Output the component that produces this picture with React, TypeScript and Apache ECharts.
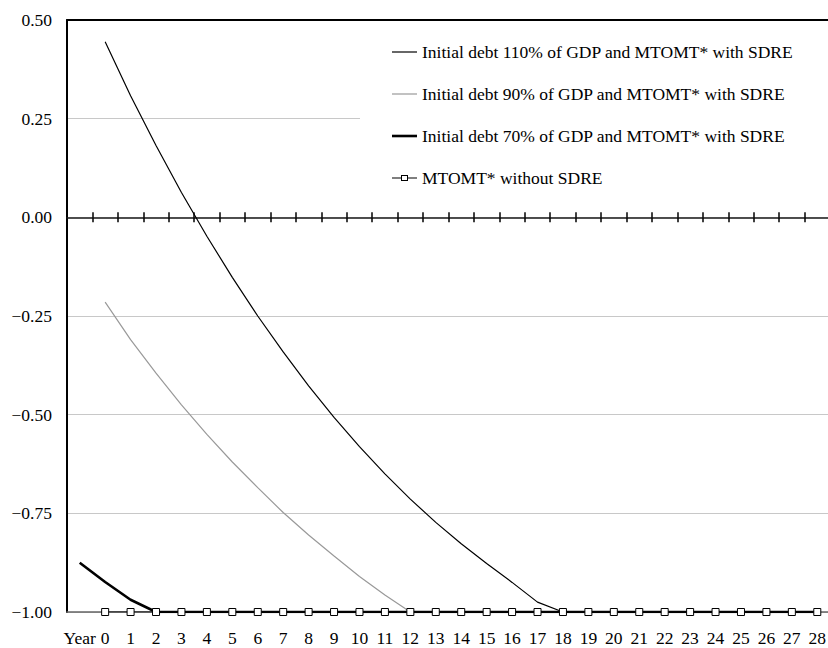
import React, { useEffect, useRef } from "react";
import * as echarts from "echarts";

const years = [
  "Year", "0", "1", "2", "3", "4", "5", "6", "7", "8", "9", "10", "11", "12", "13", "14",
  "15", "16", "17", "18", "19", "20", "21", "22", "23", "24", "25", "26", "27", "28",
];

const debt110 = [
  null, 0.445, 0.308, 0.182, 0.063, -0.048, -0.152, -0.25, -0.341, -0.427, -0.507, -0.581,
  -0.65, -0.714, -0.773, -0.827, -0.877, -0.925, -0.975, -1, -1, -1, -1, -1, -1, -1, -1, -1, -1, -1,
];

const debt90 = [
  null, -0.215, -0.31, -0.395, -0.475, -0.55, -0.62, -0.685, -0.748, -0.805, -0.858, -0.91,
  -0.957, -1, -1, -1, -1, -1, -1, -1, -1, -1, -1, -1, -1, -1, -1, -1, -1, -1,
];

const debt70 = [
  -0.875, -0.924, -0.969, -1, -1, -1, -1, -1, -1, -1, -1, -1, -1, -1, -1, -1,
  -1, -1, -1, -1, -1, -1, -1, -1, -1, -1, -1, -1, -1, -1,
];

const noSdre = [
  null, -1, -1, -1, -1, -1, -1, -1, -1, -1, -1, -1, -1, -1, -1, -1,
  -1, -1, -1, -1, -1, -1, -1, -1, -1, -1, -1, -1, -1, -1,
];

const seriesNames = [
  "Initial debt 110% of GDP and MTOMT* with SDRE",
  "Initial debt 90% of GDP and MTOMT* with SDRE",
  "Initial debt 70% of GDP and MTOMT* with SDRE",
  "MTOMT* without SDRE",
];

const FONT = "serif";

const thinLine = "path://M0,0 L25,0 L25,1.2 L0,1.2 Z";
const thickLine = "path://M0,0 L25,0 L25,2.6 L0,2.6 Z";
const lineSquare =
  "path://M0,3 L9,3 L9,4 L0,4 Z M16,3 L25,3 L25,4 L16,4 Z M9,0.5 L16,0.5 L16,6.5 L9,6.5 Z M10,1.5 L10,5.5 L15,5.5 L15,1.5 Z";

export default function App() {
  const ref = useRef<HTMLDivElement>(null);
  useEffect(() => {
    if (!ref.current) return;
    const chart = echarts.init(ref.current, undefined, { renderer: "svg" });
    const hidden = { show: false };
    chart.setOption({
      animation: false,
      backgroundColor: "#fff",
      textStyle: { fontFamily: FONT },
      grid: {
        left: 67,
        right: -2,
        top: 20,
        bottom: 36,
        containLabel: false,
        outerBoundsMode: "none",
      },
      legend: {
        orient: "vertical",
        left: 360,
        top: 28,
        padding: [15, 40, 15, 32],
        backgroundColor: "#fff",
        itemGap: 24,
        itemWidth: 25,
        itemHeight: 14,
        symbolKeepAspect: true,
        selectedMode: false,
        textStyle: { fontFamily: FONT, fontSize: 17.5, color: "#000" },
        data: [
          { name: seriesNames[0], icon: thinLine, itemStyle: { color: "#000", borderWidth: 0 } },
          { name: seriesNames[1], icon: thinLine, itemStyle: { color: "#999", borderWidth: 0 } },
          { name: seriesNames[2], icon: thickLine, itemStyle: { color: "#000", borderWidth: 0 } },
          { name: seriesNames[3], icon: lineSquare, itemStyle: { color: "#000", borderWidth: 0 } },
        ],
      },
      xAxis: [
        {
          type: "category",
          data: years,
          position: "bottom",
          boundaryGap: true,
          axisLine: { onZero: false, lineStyle: { color: "#666", width: 1.5 } },
          axisTick: hidden,
          splitLine: hidden,
          axisLabel: {
            interval: 0,
            margin: 17,
            fontSize: 17.5,
            color: "#000",
            fontFamily: FONT,
          },
        },
        {
          type: "category",
          data: years,
          position: "top",
          axisLine: { onZero: true, lineStyle: { color: "#444", width: 1.5 } },
          axisTick: { show: true, interval: 0, length: 5, lineStyle: { color: "#000", width: 1.5 } },
          axisLabel: hidden,
          splitLine: hidden,
        },
        {
          type: "category",
          data: years,
          position: "top",
          axisLine: { onZero: true, onZeroAxisIndex: 0, lineStyle: { color: "#444", width: 1.5 } },
          axisTick: { show: true, inside: true, interval: 0, length: 5, lineStyle: { color: "#000", width: 1.5 } },
          axisLabel: hidden,
          splitLine: hidden,
        },
        {
          type: "category",
          data: years,
          position: "top",
          axisLine: { onZero: false, lineStyle: { color: "#000", width: 2 } },
          axisTick: hidden,
          axisLabel: hidden,
          splitLine: hidden,
        },
      ],
      yAxis: {
        type: "value",
        min: -1,
        max: 0.5,
        interval: 0.25,
        axisLine: { show: true, onZero: false, lineStyle: { color: "#000", width: 2 } },
        axisTick: hidden,
        splitLine: { show: true, lineStyle: { color: "#c8c8c8", width: 1.2 } },
        axisLabel: {
          margin: 15,
          fontSize: 17.5,
          color: "#000",
          fontFamily: FONT,
          formatter: (v: number) => v.toFixed(2).replace("-", "\u2212"),
        },
      },
      series: [
        {
          name: seriesNames[0],
          type: "line",
          data: debt110,
          symbol: "none",
          lineStyle: { color: "#000", width: 1.2 },
          itemStyle: { color: "#000" },
        },
        {
          name: seriesNames[1],
          type: "line",
          data: debt90,
          symbol: "none",
          lineStyle: { color: "#999", width: 1.2 },
          itemStyle: { color: "#999" },
        },
        {
          name: seriesNames[2],
          type: "line",
          data: debt70,
          symbol: "none",
          lineStyle: { color: "#000", width: 2.6 },
          itemStyle: { color: "#000" },
        },
        {
          name: seriesNames[3],
          type: "line",
          data: noSdre,
          symbol: "rect",
          symbolSize: 7,
          showSymbol: true,
          lineStyle: { color: "#000", width: 1 },
          itemStyle: { color: "#fff", borderColor: "#000", borderWidth: 1 },
        },
      ],
    });
    return () => chart.dispose();
  }, []);
  return (
    <div
      ref={ref}
      style={{ position: "fixed", left: 0, top: 0, width: 828, height: 648 }}
    />
  );
}
